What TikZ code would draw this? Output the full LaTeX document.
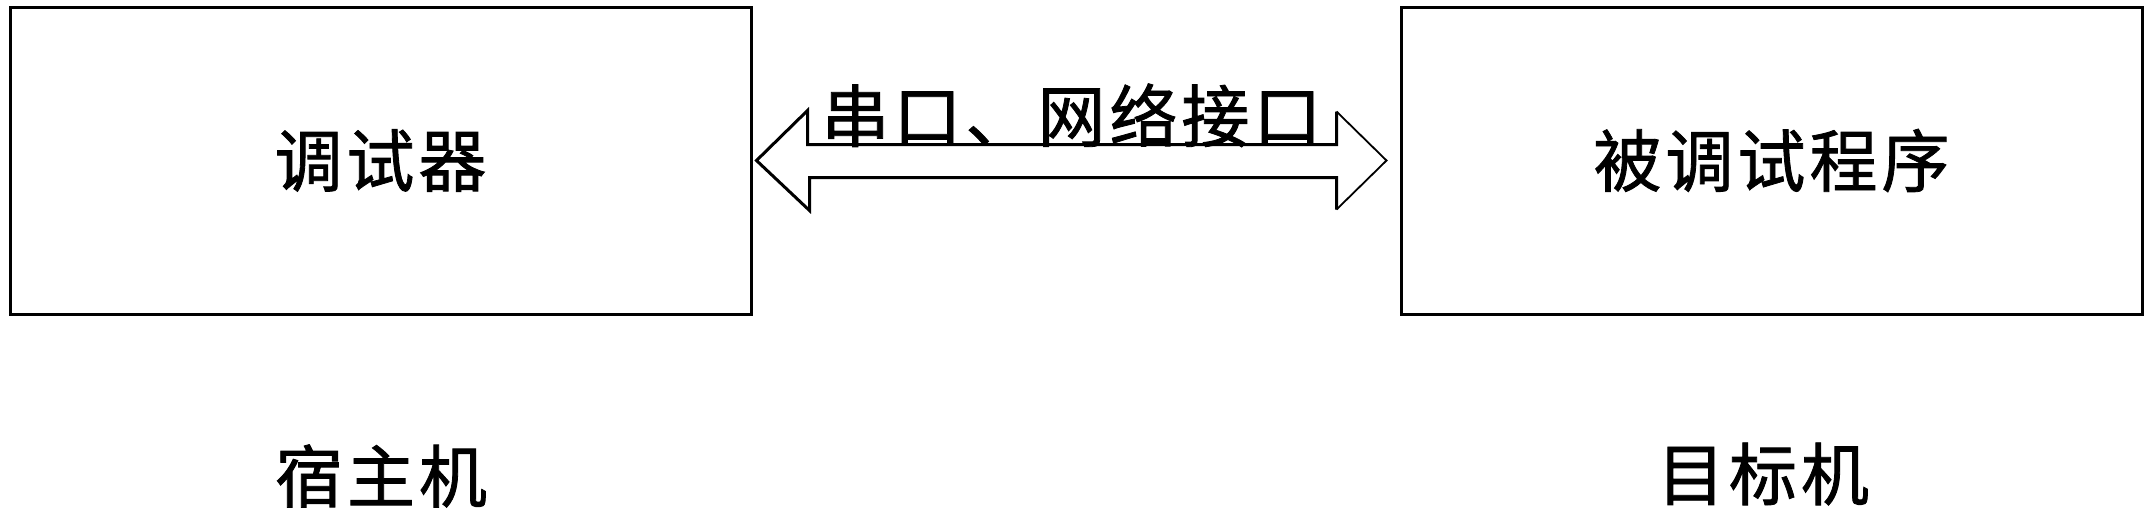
\documentclass[tikz,border=0pt]{standalone}
\usepackage{fontspec}
\newfontfamily\cjk[FakeBold=1.2]{Noto Sans CJK SC}
\usetikzlibrary{calc}
\newcommand{\cgap}{\hspace{2pt}}
\tikzset{
  boxnode/.style={draw, line width=1.5pt, rectangle, inner sep=0pt, minimum width=370.5pt, minimum height=153.5pt, font=\cjk\fontsize{34}{40}\selectfont},
  lbl/.style={inner sep=0pt, font=\cjk\fontsize{34}{40}\selectfont},
  arrowline/.style={line width=1.5pt, line join=miter},
  thinhead/.style={line width=0.9pt}
}
\begin{document}
\begin{tikzpicture}[x=0.5pt, y=-0.5pt]
\useasboundingbox (0,0) rectangle (2151,511);
\node[boxnode] (host) at (380.5,160.5) {调\cgap 试\cgap 器};
\node[boxnode] (target) at (1771.5,160.5) {被\cgap 调\cgap 试\cgap 程\cgap 序};
\node[lbl] (hostlbl) at (381,476) {宿\cgap 主\cgap 机};
\node[lbl] (targetlbl) at (1763,474) {目\cgap 标\cgap 机};
\coordinate (L) at ([xshift=2pt]host.east);
\coordinate (R) at ([xshift=-6.5pt]target.west);
\draw[arrowline] ($(R)+(-50,-49)$) -- ($(R)+(-50,-16)$) -- ($(L)+(51,-16)$) -- ($(L)+(51,-50)$) -- (L) -- ($(L)+(53,50)$) -- ($(L)+(53,17)$) -- ($(R)+(-50,17)$) -- ($(R)+(-50,49)$);
\draw[thinhead] ($(R)+(-50,-49)$) -- (R) -- ($(R)+(-50,49)$);
\node[lbl, anchor=south] (iface) at ($(L)!0.5!(R)+(0,-13)$) {串\cgap 口\cgap 、\cgap 网\cgap 络\cgap 接\cgap 口};
\end{tikzpicture}
\end{document}
